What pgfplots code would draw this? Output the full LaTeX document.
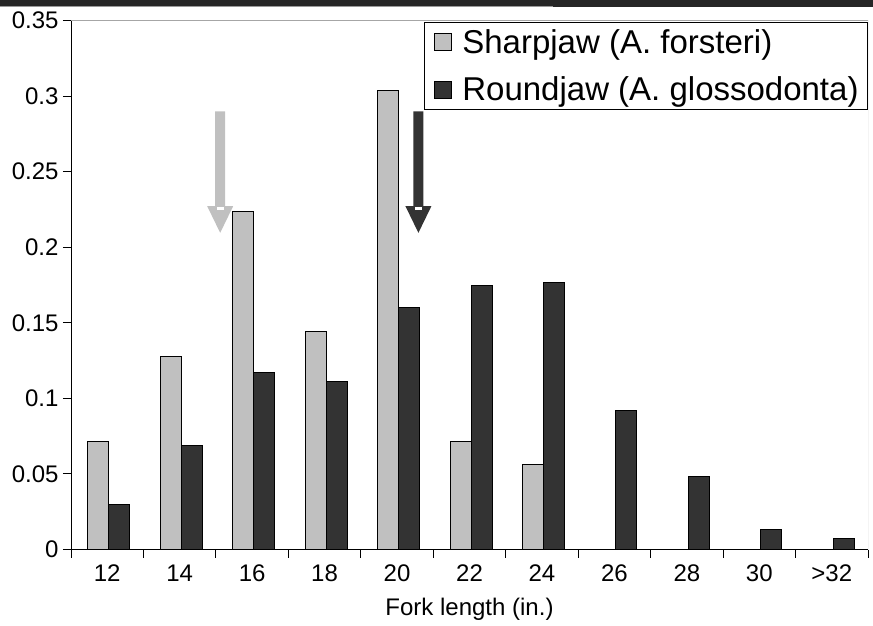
\documentclass[border=0pt]{standalone}
\usepackage{pgfplots}
\pgfplotsset{compat=1.18}
\usepackage{fontspec}
\setmainfont{Liberation Sans}
\definecolor{sharp}{HTML}{C0C0C0}
\definecolor{round}{HTML}{333333}
\definecolor{topbar}{HTML}{262626}
\begin{document}
\begin{tikzpicture}
\useasboundingbox (0,0) rectangle (873pt,625pt);
\fill[topbar] (0,617.5pt) rectangle (873pt,625pt);
\fill[gray!80] (0,617.5pt) rectangle (553pt,619.3pt);
\begin{axis}[
  at={(71pt,75.5pt)}, anchor=south west,
  scale only axis, width=797pt, height=529pt,
  xmin=-0.5, xmax=10.5, ymin=0, ymax=0.35,
  ybar=0pt,
  axis x line*=bottom, axis y line*=left,
  axis line style={black, line width=1pt},
  tick style={black, line width=1pt},
  tick align=outside,
  major tick length=8pt,
  xtick={-0.5,0.5,...,10.5},
  xticklabels={},
  extra x ticks={0,1,2,3,4,5,6,7,8,9,10},
  extra x tick labels={12,14,16,18,20,22,24,26,28,30,>32},
  extra x tick style={major tick length=0pt, xticklabel style={yshift=-12pt}},
  ytick={0,0.05,0.1,0.15,0.2,0.25,0.3,0.35},
  /pgf/number format/assume math mode=true,
  /pgf/number format/fixed,
  /pgf/number format/precision=2,
  ticklabel style={font=\fontsize{24}{28}\selectfont},
  yticklabel style={xshift=-1pt},
  xlabel={Fork length (in.)},
  xlabel style={font=\fontsize{24}{28}\selectfont, yshift=-1pt},
  legend cell align=left,
  legend style={at={(1,1)}, anchor=north east, yshift=-1.5pt,
    draw=black, line width=0.8pt,
    font=\fontsize{33}{38}\selectfont,
    inner xsep=9pt, inner ysep=7pt,
    nodes={inner sep=0pt},
    column sep=11pt, row sep=22pt},
]
\draw[gray!70, line width=1pt] (rel axis cs:0,1) -- (rel axis cs:1,1) -- (rel axis cs:1,0);
\addplot[bar width=21pt, bar shift=-9pt, fill=sharp, draw=black, line width=1pt,
  legend image code/.code={\draw[fill=sharp, draw=black, line width=0.8pt] (0pt,-8.5pt) rectangle (17pt,8.5pt);}]
  coordinates {(0,0.0717) (1,0.1276) (2,0.2236) (3,0.1442) (4,0.3040) (5,0.0717) (6,0.0561)};
\addlegendentry{Sharpjaw (A. forsteri)}
\addplot[bar width=21pt, bar shift=12pt, fill=round, draw=black, line width=1pt,
  legend image code/.code={\draw[fill=round, draw=black, line width=0.8pt] (0pt,-8.5pt) rectangle (17pt,8.5pt);}]
  coordinates {(0,0.0297) (1,0.0689) (2,0.1170) (3,0.1110) (4,0.1599) (5,0.1745) (6,0.1767) (7,0.0922) (8,0.0480) (9,0.0130) (10,0.0070)};
\addlegendentry{Roundjaw (A. glossodonta)}
% mean arrows
\fill[sharp] ([xshift=-5pt]axis cs:1.559,0.2898) -- ([xshift=5pt]axis cs:1.559,0.2898) -- ([xshift=5pt]axis cs:1.559,0.2272) -- ([xshift=13pt]axis cs:1.559,0.2272) -- (axis cs:1.559,0.2095) -- ([xshift=-13pt]axis cs:1.559,0.2272) -- ([xshift=-5pt]axis cs:1.559,0.2272) -- cycle;
\fill[white] ([xshift=-3.5pt,yshift=-1pt]axis cs:1.559,0.2272) rectangle ([xshift=3.5pt,yshift=-4pt]axis cs:1.559,0.2272);
\fill[round] ([xshift=-5pt]axis cs:4.295,0.2898) -- ([xshift=5pt]axis cs:4.295,0.2898) -- ([xshift=5pt]axis cs:4.295,0.2272) -- ([xshift=13pt]axis cs:4.295,0.2272) -- (axis cs:4.295,0.2095) -- ([xshift=-13pt]axis cs:4.295,0.2272) -- ([xshift=-5pt]axis cs:4.295,0.2272) -- cycle;
\fill[white] ([xshift=-3.5pt,yshift=-1pt]axis cs:4.295,0.2272) rectangle ([xshift=3.5pt,yshift=-4pt]axis cs:4.295,0.2272);
\end{axis}
\end{tikzpicture}
\end{document}
